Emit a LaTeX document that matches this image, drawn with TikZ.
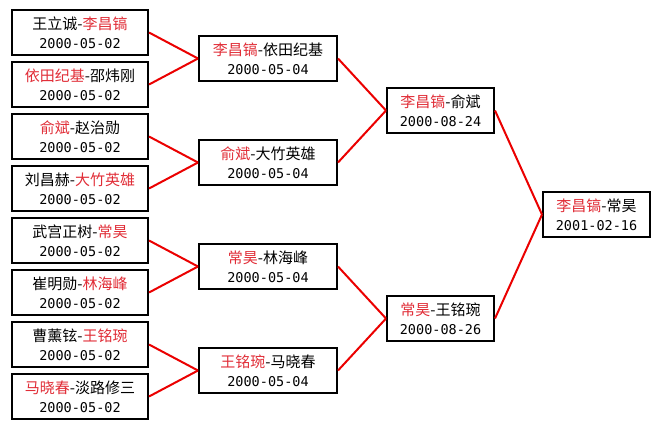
\documentclass[tikz,border=0pt]{standalone}
\usepackage{fontspec}
\usepackage{xcolor}
\newfontfamily\cjk{Noto Sans CJK SC}
\newfontfamily\monof{DejaVu Sans Mono}
\definecolor{tred}{RGB}{225,45,55}
\definecolor{lred}{RGB}{235,0,0}
\newcommand\rd[1]{\textcolor{tred}{#1}}
\newcommand\mt[3]{{\cjk #1}\\{\monof\fontsize{13.5}{19}\selectfont #2}}
\tikzset{
  mbox/.style={draw=black, line width=2pt, fill=white, align=center, inner sep=0pt,
    minimum height=45pt, font=\fontsize{15}{19}\selectfont},
  r1/.style={mbox, minimum width=136pt},
  r2/.style={mbox, minimum width=138pt},
  r3/.style={mbox, minimum width=107pt},
  link/.style={draw=lred, line width=2pt}
}
\begin{document}
\begin{tikzpicture}[x=1pt,y=-1pt]
\useasboundingbox[fill=white] (0,0) rectangle (660,429);
% round 1
\node[r1] (a1) at (80,32.5)  {\mt{王立诚-\rd{李昌镐}}{2000-05-02}{}};
\node[r1] (a2) at (80,84.5)  {\mt{\rd{依田纪基}-邵炜刚}{2000-05-02}{}};
\node[r1] (a3) at (80,136.5) {\mt{\rd{俞斌}-赵治勋}{2000-05-02}{}};
\node[r1] (a4) at (80,188.5) {\mt{刘昌赫-\rd{大竹英雄}}{2000-05-02}{}};
\node[r1] (a5) at (80,240.5) {\mt{武宫正树-\rd{常昊}}{2000-05-02}{}};
\node[r1] (a6) at (80,292.5) {\mt{崔明勋-\rd{林海峰}}{2000-05-02}{}};
\node[r1] (a7) at (80,344.5) {\mt{曹薰铉-\rd{王铭琬}}{2000-05-02}{}};
\node[r1] (a8) at (80,396.5) {\mt{\rd{马晓春}-淡路修三}{2000-05-02}{}};
% round 2
\node[r2] (b1) at (268,58.5)  {\mt{\rd{李昌镐}-依田纪基}{2000-05-04}{}};
\node[r2] (b2) at (268,162.5) {\mt{\rd{俞斌}-大竹英雄}{2000-05-04}{}};
\node[r2] (b3) at (268,266.5) {\mt{\rd{常昊}-林海峰}{2000-05-04}{}};
\node[r2] (b4) at (268,370.5) {\mt{\rd{王铭琬}-马晓春}{2000-05-04}{}};
% round 3
\node[r3] (c1) at (440.5,110.5) {\mt{\rd{李昌镐}-俞斌}{2000-08-24}{}};
\node[r3] (c2) at (440.5,318.5) {\mt{\rd{常昊}-王铭琬}{2000-08-26}{}};
% final
\node[r3] (d1) at (596.5,214.5) {\mt{\rd{李昌镐}-常昊}{2001-02-16}{}};
% connectors
\draw[link] (a1.east) -- (b1.west);
\draw[link] (a2.east) -- (b1.west);
\draw[link] (a3.east) -- (b2.west);
\draw[link] (a4.east) -- (b2.west);
\draw[link] (a5.east) -- (b3.west);
\draw[link] (a6.east) -- (b3.west);
\draw[link] (a7.east) -- (b4.west);
\draw[link] (a8.east) -- (b4.west);
\draw[link] (b1.east) -- (c1.west);
\draw[link] (b2.east) -- (c1.west);
\draw[link] (b3.east) -- (c2.west);
\draw[link] (b4.east) -- (c2.west);
\draw[link] (c1.east) -- (d1.west);
\draw[link] (c2.east) -- (d1.west);
\end{tikzpicture}
\end{document}
